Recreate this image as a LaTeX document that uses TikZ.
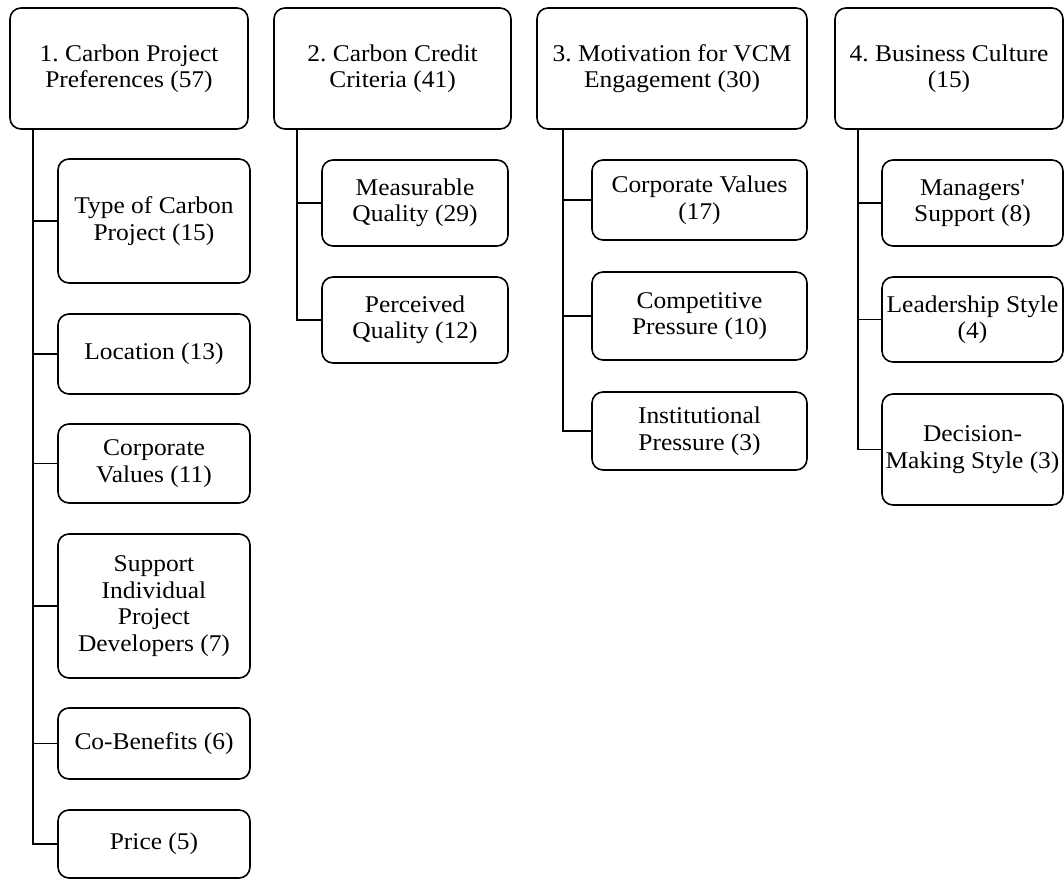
\documentclass[tikz,border=0pt]{standalone}
\usepackage{fontspec}
\setmainfont{Liberation Serif}[FakeStretch=1.06]
% same face without TeX ligatures, for a straight apostrophe
\newfontfamily\plainface{Liberation Serif}[FakeStretch=1.06, Ligatures=TeXOff]
\frenchspacing
\begin{document}
\begin{tikzpicture}[x=1pt,y=-1pt,
  box/.style={draw=black, line width=1.6pt, rounded corners=11pt, align=center,
    inner sep=0pt, font=\fontsize{24}{26.5}\selectfont, text=black},
  link/.style={draw=black, line width=1.6pt}]
\useasboundingbox (0,0) rectangle (1064,880);

% top-level categories
\node[box, minimum width=238pt, minimum height=121pt] (t1) at (129,68.5) {1. Carbon Project\\Preferences (57)};
\node[box, minimum width=237pt, minimum height=121pt] (t2) at (392.5,68.5) {2. Carbon Credit\\Criteria (41)};
\node[box, minimum width=270pt, minimum height=121pt] (t3) at (672,68.5) {3. Motivation for VCM\\Engagement (30)};
\node[box, minimum width=228pt, minimum height=121pt] (t4) at (949,68.5) {4. Business Culture\\(15)};

% column 1
\node[box, minimum width=192pt, minimum height=124pt] (c11) at (154,221) {Type of Carbon\\Project (15)};
\node[box, minimum width=192pt, minimum height=80pt] (c12) at (154,354) {Location (13)};
\node[box, minimum width=192pt, minimum height=79pt] (c13) at (154,463.5) {Corporate\\Values (11)};
\node[box, minimum width=192pt, minimum height=144pt] (c14) at (154,606) {Support\\Individual\\Project\\Developers (7)};
\node[box, minimum width=192pt, minimum height=71pt] (c15) at (154,743.5) {Co-Benefits (6)};
\node[box, minimum width=192pt, minimum height=68pt] (c16) at (154,844) {Price (5)};

% column 2
\node[box, minimum width=186pt, minimum height=86pt] (c21) at (415,203) {Measurable\\Quality (29)};
\node[box, minimum width=186pt, minimum height=86pt] (c22) at (415,320) {Perceived\\Quality (12)};

% column 3
\node[box, minimum width=215pt, minimum height=80pt] (c31) at (699.5,200) {Corporate Values\\(17)};
\node[box, minimum width=215pt, minimum height=88pt] (c32) at (699.5,316) {Competitive\\Pressure (10)};
\node[box, minimum width=215pt, minimum height=78pt] (c33) at (699.5,431) {Institutional\\Pressure (3)};

% column 4
\node[box, minimum width=181pt, minimum height=86pt] (c41) at (972.5,203) {Managers{\plainface '}\\Support (8)};
\node[box, minimum width=181pt, minimum height=85pt] (c42) at (972.5,319.5) {Leadership Style\\(4)};
\node[box, minimum width=181pt, minimum height=111pt] (c43) at (972.5,449.5) {Decision-\\Making Style (3)};

% elbow connectors
\foreach \c in {c11,c12,c13,c14,c15,c16}
  \draw[link] ([xshift=24pt]t1.south west) |- (\c.west);
\foreach \c in {c21,c22}
  \draw[link] ([xshift=24pt]t2.south west) |- (\c.west);
\foreach \c in {c31,c32,c33}
  \draw[link] ([xshift=27pt]t3.south west) |- (\c.west);
\foreach \c in {c41,c42,c43}
  \draw[link] ([xshift=24pt]t4.south west) |- (\c.west);
\end{tikzpicture}
\end{document}
